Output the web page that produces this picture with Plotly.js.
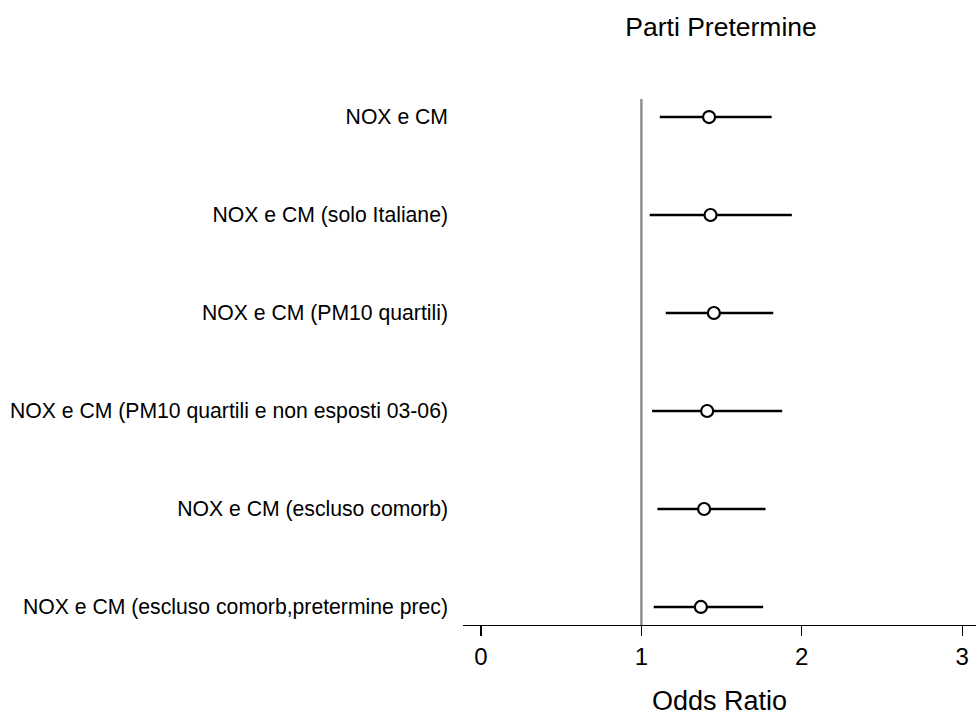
<!DOCTYPE html>
<html>
<head>
<meta charset="utf-8">
<script src="https://cdn.plot.ly/plotly-3.0.1.min.js"></script>
<style>html,body{margin:0;padding:0;background:#fff;}#chart{width:976px;height:716px;}</style>
</head>
<body>
<div id="chart"></div>
<script>
const categories = [
  "NOX e CM",
  "NOX e CM (solo Italiane)",
  "NOX e CM (PM10 quartili)",
  "NOX e CM (PM10 quartili e non esposti 03-06)",
  "NOX e CM (escluso comorb)",
  "NOX e CM (escluso comorb,pretermine prec)"
];
const oddsRatio = [1.422, 1.431, 1.452, 1.410, 1.391, 1.371];
const ciLower   = [1.115, 1.052, 1.152, 1.067, 1.100, 1.077];
const ciUpper   = [1.812, 1.938, 1.822, 1.878, 1.774, 1.759];
const xTickVals = [0, 1, 2, 3];
const xTickText = ["0", "1", "2", "3"];

const font = "Liberation Sans, Arial, Helvetica, sans-serif";

const trace = {
  type: "scatter",
  mode: "markers",
  x: oddsRatio,
  y: categories,
  error_x: {
    type: "data",
    symmetric: false,
    array: oddsRatio.map((v, i) => ciUpper[i] - v),
    arrayminus: oddsRatio.map((v, i) => v - ciLower[i]),
    color: "#000",
    thickness: 2.6,
    width: 0
  },
  marker: {
    symbol: "circle",
    size: 12,
    color: "#fff",
    line: {color: "#000", width: 2.2}
  },
  hoverinfo: "x+y",
  showlegend: false
};

const layout = {
  width: 976,
  height: 716,
  margin: {l: 463, r: 0, t: 99, b: 91},
  paper_bgcolor: "#fff",
  plot_bgcolor: "#fff",
  font: {family: font, color: "#000", size: 22},
  title: {
    text: "Parti Pretermine",
    font: {family: font, size: 26.5, color: "#000"},
    x: 0.503, xref: "paper",
    y: 0.962, yref: "container", yanchor: "middle"
  },
  xaxis: {
    range: [-0.112, 3.086],
    tickvals: xTickVals,
    ticktext: xTickText,
    ticks: "outside",
    ticklen: 10,
    tickwidth: 1.2,
    tickcolor: "#000",
    showline: true,
    linecolor: "#000",
    linewidth: 1.2,
    showgrid: false,
    zeroline: false,
    tickfont: {family: font, size: 24, color: "#000"},
    title: {text: "Odds Ratio", font: {family: font, size: 27, color: "#000"}, standoff: 29}
  },
  yaxis: {
    type: "category",
    categoryorder: "array",
    categoryarray: categories,
    range: [5.184, -0.184],
    showline: false,
    showgrid: false,
    zeroline: false,
    ticks: "",
    ticklabelstandoff: 14,
    tickfont: {family: font, size: 21.2, color: "#000"}
  },
  shapes: [{
    type: "line",
    xref: "x", yref: "paper",
    x0: 1, x1: 1, y0: 0, y1: 1,
    line: {color: "#8c8c8c", width: 2.4},
    layer: "below"
  }]
};

Plotly.newPlot("chart", [trace], layout, {staticPlot: true, displayModeBar: false});
</script>
</body>
</html>
